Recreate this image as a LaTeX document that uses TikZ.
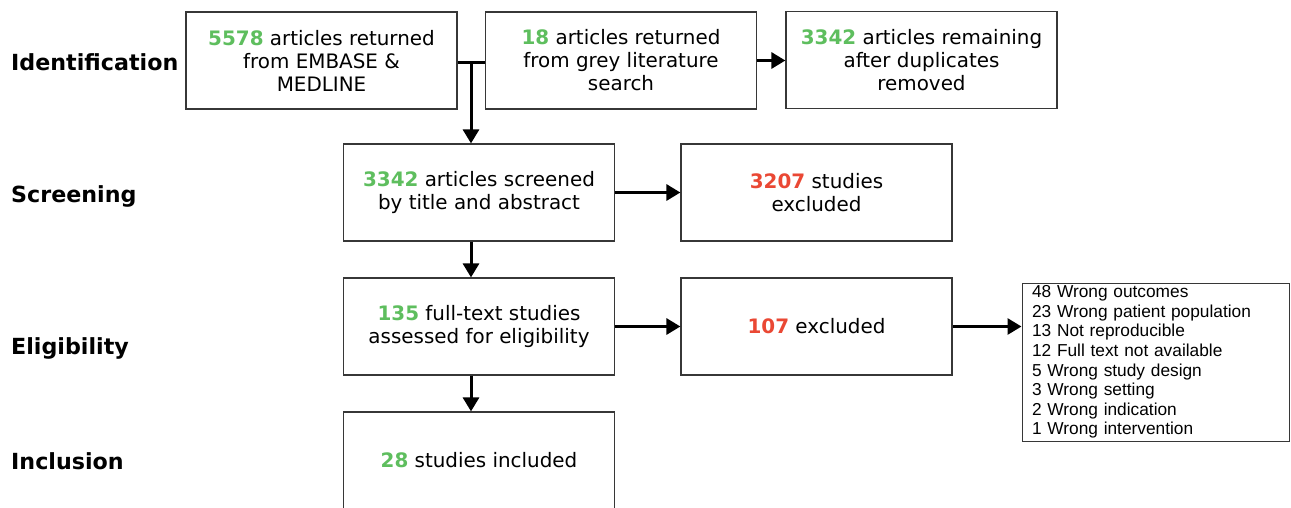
\documentclass[tikz,border=0pt]{standalone}
\usepackage{fontspec}
\setmainfont{DejaVu Sans}
\newfontfamily\listfont{Liberation Sans}
\usetikzlibrary{arrows.meta}
\definecolor{numgreen}{RGB}{94,190,94}
\definecolor{numred}{RGB}{234,72,52}
\definecolor{edgegray}{RGB}{55,55,55}
\newcommand\numg[1]{\textbf{\color{numgreen}#1}}
\newcommand\numr[1]{\textbf{\color{numred}#1}}
\begin{document}
\begin{tikzpicture}[x=1pt,y=-1pt,
  box/.style={draw=edgegray, line width=1.2pt, minimum width=271pt, minimum height=97pt,
    align=center, inner sep=0pt, font=\fontsize{19.9}{23}\selectfont},
  listbox/.style={draw=edgegray, line width=1pt, minimum width=267pt, minimum height=158pt,
    text width=247pt, align=left, inner sep=0pt, font=\listfont\fontsize{17.3}{19.6}\selectfont},
  stage/.style={anchor=base west, inner sep=0pt, font=\fontsize{22.2}{24}\selectfont\bfseries},
  conn/.style={line width=3pt, -{Triangle[length=14pt,width=16pt]}},
  plain/.style={line width=3pt}
  ]
\useasboundingbox (0,0) rectangle (1291,507);
\fill[white] (0,0) rectangle (1291,507);

% stage labels
\node[stage] (s1) at (11,70) {Identification};
\node[stage] (s2) at (11,202) {Screening};
\node[stage] (s3) at (11,354) {Eligibility};
\node[stage] (s4) at (11,469) {Inclusion};

% boxes
\node[box] (A) at (321.5,60.5) {\numg{5578} articles returned\\from EMBASE \&\\MEDLINE};
\node[box] (B) at (621,60.5) {\numg{18} articles returned\\from grey literature\\search};
\node[box] (C) at (921.5,60) {\numg{3342} articles remaining\\after duplicates\\removed};
\node[box] (D) at (479,192.5) {\numg{3342} articles screened\\by title and abstract};
\node[box] (E) at (816.5,192.5) {\numr{3207} studies\\excluded};
\node[box] (F) at (479,326.5) {\numg{135} full-text studies\\assessed for eligibility};
\node[box] (G) at (816.5,326.5) {\numr{107} excluded};
\node[box] (I) at (479,460.5) {\numg{28} studies included};
\node[listbox] (H) at (1155.5,362) {48 Wrong outcomes\\23 Wrong patient population\\13 Not reproducible\\12 Full text not available\\5 Wrong study design\\3 Wrong setting\\2 Wrong indication\\1 Wrong intervention};

% connectors
\coordinate (J) at (471,62);
\draw[plain] (A.east |- J) -- (B.west |- J);
\draw[conn] (J) -- (J |- D.north);
\draw[conn] (B.east) -- (B.east -| C.west);
\draw[conn] (D.east) -- (E.west);
\draw[conn] (J |- D.south) -- (J |- F.north);
\draw[conn] (F.east) -- (G.west);
\draw[conn] (G.east) -- (G.east -| H.west);
\draw[conn] (J |- F.south) -- (J |- I.north);
\end{tikzpicture}
\end{document}
